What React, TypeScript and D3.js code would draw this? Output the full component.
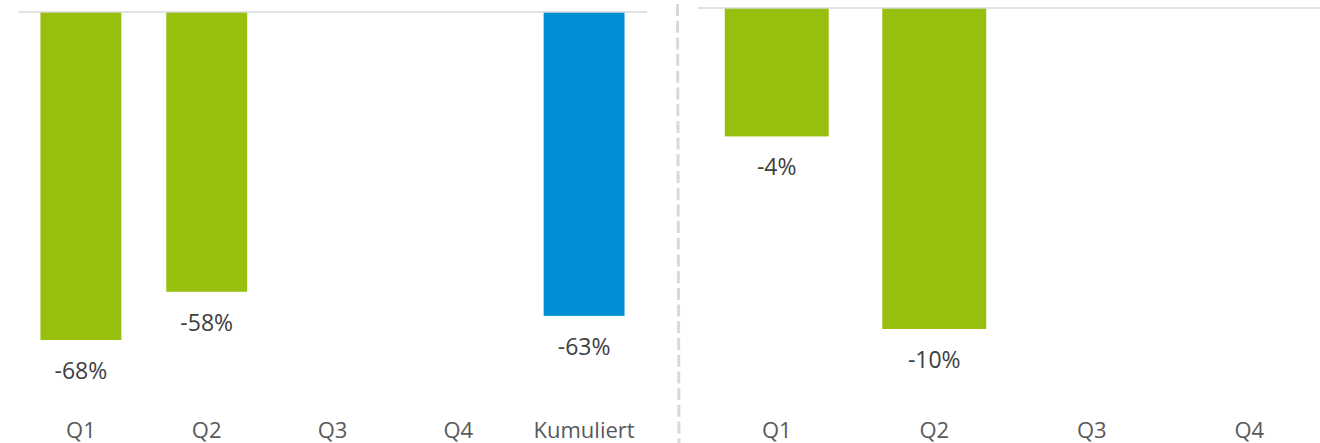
import React, { useEffect, useRef } from 'react';
import * as d3 from 'd3';

const leftCategories = ['Q1', 'Q2', 'Q3', 'Q4', 'Kumuliert'];
const leftValues: (number | null)[] = [-68, -58, null, null, -63];
const leftColors = ['#97BF0D', '#97BF0D', '#97BF0D', '#97BF0D', '#008FD5'];

const rightCategories = ['Q1', 'Q2', 'Q3', 'Q4'];
const rightValues: (number | null)[] = [-4, -10, null, null];

const WIDTH = 1320;
const HEIGHT = 443;
const FONT = "'Open Sans', 'Noto Sans', sans-serif";

type Panel = {
  categories: string[];
  values: (number | null)[];
  colors: string[];
  xRange: [number, number];
  lineRange: [number, number];
  zeroY: number;
  minValue: number;
  minY: number;
  padInner: number;
};

export default function App() {
  const svgRef = useRef<SVGSVGElement>(null);

  useEffect(() => {
    document.body.style.margin = '0';
    const svg = d3.select(svgRef.current);
    svg.selectAll('*').remove();

    const panels: Panel[] = [
      {
        categories: leftCategories,
        values: leftValues,
        colors: leftColors,
        xRange: [18, 647],
        lineRange: [18, 647],
        zeroY: 12,
        minValue: -68,
        minY: 340,
        padInner: 0.357,
      },
      {
        categories: rightCategories,
        values: rightValues,
        colors: rightCategories.map(() => '#97BF0D'),
        xRange: [698, 1328],
        lineRange: [698, 1320],
        zeroY: 8,
        minValue: -10,
        minY: 329,
        padInner: 0.34,
      },
    ];

    panels.forEach((p) => {
      const x = d3
        .scaleBand()
        .domain(p.categories)
        .range(p.xRange)
        .paddingInner(p.padInner)
        .paddingOuter(p.padInner / 2);
      const y = d3.scaleLinear().domain([0, p.minValue]).range([p.zeroY, p.minY]);

      const g = svg.append('g');
      const data = p.categories.map((c, i) => ({ c, v: p.values[i], color: p.colors[i] }));
      const withValue = data.filter((d) => d.v !== null);

      g.selectAll('rect')
        .data(withValue)
        .join('rect')
        .attr('x', (d) => x(d.c)!)
        .attr('y', y(0))
        .attr('width', x.bandwidth())
        .attr('height', (d) => y(d.v!) - y(0))
        .attr('fill', (d) => d.color);

      g.append('line')
        .attr('x1', p.lineRange[0])
        .attr('x2', p.lineRange[1])
        .attr('y1', y(0))
        .attr('y2', y(0))
        .attr('stroke', '#d9d9d9')
        .attr('stroke-width', 1.5);

      g.selectAll('text.value')
        .data(withValue)
        .join('text')
        .attr('class', 'value')
        .attr('x', (d) => x(d.c)! + x.bandwidth() / 2)
        .attr('y', (d) => y(d.v!) + 31)
        .attr('dy', '0.35em')
        .attr('text-anchor', 'middle')
        .style('font-family', FONT)
        .style('font-size', '23px')
        .attr('fill', '#404040')
        .text((d) => `${d.v}%`);

      g.selectAll('text.cat')
        .data(data)
        .join('text')
        .attr('class', 'cat')
        .attr('x', (d) => x(d.c)! + x.bandwidth() / 2)
        .attr('y', 430)
        .attr('dy', '0.35em')
        .attr('text-anchor', 'middle')
        .style('font-family', FONT)
        .style('font-size', '22px')
        .attr('fill', '#595959')
        .text((d) => d.c);
    });

    // dashed separator between the two panels
    svg
      .append('line')
      .attr('x1', 677.5)
      .attr('x2', 679)
      .attr('y1', 4)
      .attr('y2', HEIGHT)
      .attr('stroke', '#d9d9d9')
      .attr('stroke-width', 3)
      .attr('stroke-dasharray', '12,4.7');
  }, []);

  return (
    <svg
      ref={svgRef}
      width={WIDTH}
      height={HEIGHT}
      style={{ display: 'block', background: '#fff' }}
    />
  );
}
